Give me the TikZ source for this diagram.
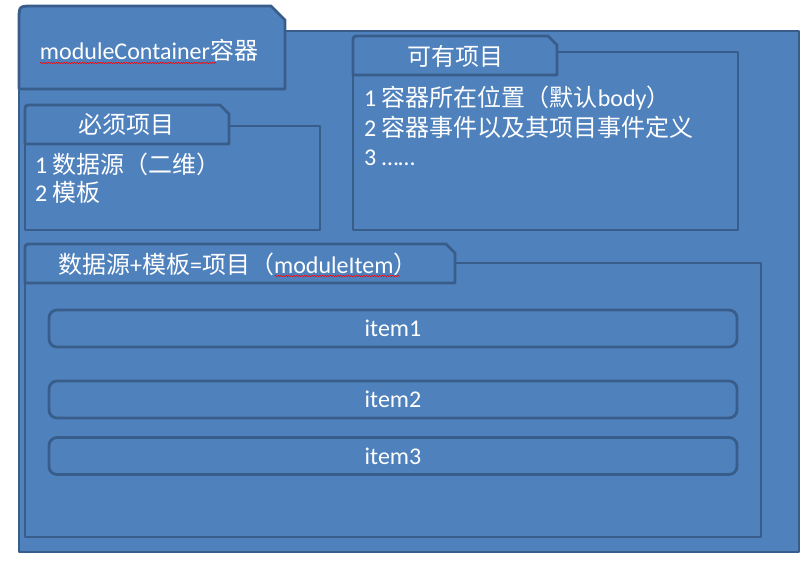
\documentclass[tikz,border=0pt]{standalone}
\usepackage{fontspec}
\setmainfont{Carlito}
\newfontfamily\cjk{Noto Sans CJK SC}
\usetikzlibrary{positioning,decorations.pathmorphing}
\definecolor{pkgfill}{RGB}{79,129,189}
\definecolor{pkgline}{RGB}{56,93,138}

\begin{document}
\begin{tikzpicture}[x=1pt,y=-1pt,
  pkg/.style={draw=pkgline, fill=pkgfill, line width=2.8pt, line join=round},
  lbl/.style={text=white, font=\fontsize{24}{30}\selectfont, inner sep=0pt},
  itembox/.style={pkg, lbl, rounded corners=8pt, minimum width=688pt, minimum height=37pt},
  spell/.style={red, line width=0.5pt, decorate, decoration={snake, amplitude=0.8pt, segment length=2.6pt}}]
\useasboundingbox (0,0) rectangle (810,570);

% outer container
\draw [pkg] (19,31) rectangle (799,552);
\draw [pkg] (19,89) -- (19,20) .. controls (19,6) .. (33,6) -- (271,6) -- (285,20) -- (285,89) -- cycle;

% optional part
\draw [pkg] (353,52) rectangle (738,230);
\draw [pkg] (353,75) -- (353,43) .. controls (353,36) .. (360,36) -- (548,36) -- (557,45) -- (557,75) -- cycle;

% required part
\draw [pkg] (25,126) rectangle (320,230);
\draw [pkg] (25,144) -- (25,112) .. controls (25,105) .. (32,105) -- (220,105) -- (229,114) -- (229,144) -- cycle;

% items part
\draw [pkg] (25,263) rectangle (761,537);
\draw [pkg] (25,283) -- (25,251) .. controls (25,244) .. (32,244) -- (446,244) -- (455,253) -- (455,283) -- cycle;

% % % % % % % % % % % % % % % % % % % % % % % % % %

\node [lbl, anchor=base] (containerlabel) at (149,59) {moduleContainer{\cjk 容器}};
\draw [spell] (40,63) -- (216,63);

\node [lbl, anchor=base] (optlabel) at (455,65) {\cjk 可有项目};
\node [lbl, anchor=base west] (opt1) at (364,106) {1 {\cjk 容器所在位置（默认}body{\cjk ）}};
\node [lbl, anchor=base west] (opt2) at (364,136) {2 {\cjk 容器事件以及其项目事件定义}};
\node [lbl, anchor=base west] (opt3) at (364,165) {3 ……};

\node [lbl, anchor=base] (reqlabel) at (126,133) {\cjk 必须项目};
\node [lbl, anchor=base west] (req1) at (35,173) {1 {\cjk 数据源（二维）}};
\node [lbl, anchor=base west] (req2) at (35,201) {2 {\cjk 模板}};

\node [lbl, anchor=base west] (itemslabel) at (58,273) {{\cjk 数据源}+{\cjk 模板}={\cjk 项目（}moduleItem{\cjk ）}};
\draw [spell] (275,276) -- (400,276);

\node [itembox] (item1) at (393,328.5) {item1};
\node [itembox] (item2) at (393,399.5) {item2};
\node [itembox] (item3) at (393,456) {item3};
\end{tikzpicture}
\end{document}
